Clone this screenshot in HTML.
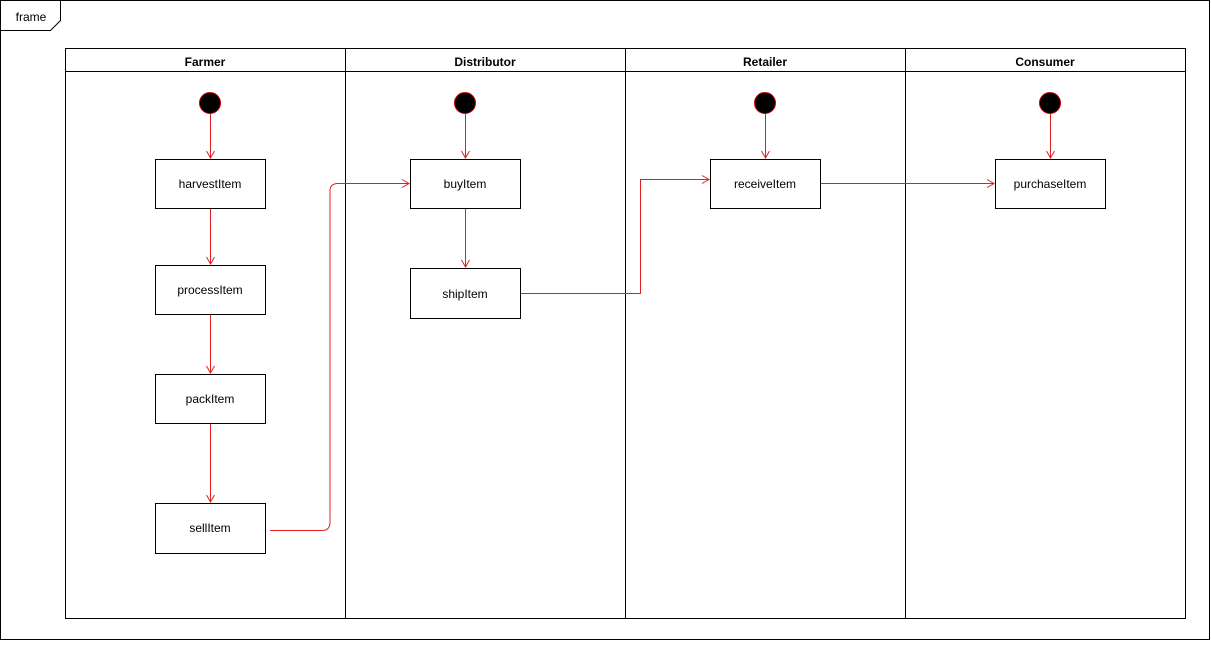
<!DOCTYPE html>
<html><head><style>body{margin:0;background:#fff}</style></head><body>
<svg width="1211" height="641" xmlns="http://www.w3.org/2000/svg" font-family="Liberation Sans, sans-serif">
<defs><marker id="a" markerWidth="10" markerHeight="10" refX="8" refY="5" orient="auto" markerUnits="userSpaceOnUse"><path d="M1,1 L8,5 L1,9" fill="none" stroke="#e02020" stroke-width="1"/></marker></defs>
<rect x="0.5" y="0.5" width="1209" height="639" fill="none" stroke="#000"/>
<path d="M0.5,30.5 H50.5 L60.5,20.5 V0.5" fill="none" stroke="#000"/>
<text x="31" y="21" font-size="12" text-anchor="middle">frame</text>
<rect x="65.5" y="48.5" width="1120" height="570" fill="none" stroke="#000"/>
<line x1="65" y1="71.5" x2="1185" y2="71.5" stroke="#000"/>
<g stroke="#000"><line x1="345.5" y1="48" x2="345.5" y2="618"/><line x1="625.5" y1="48" x2="625.5" y2="618"/><line x1="905.5" y1="48" x2="905.5" y2="618"/></g>
<g font-size="12" font-weight="bold" text-anchor="middle"><text x="205" y="66">Farmer</text><text x="485" y="66">Distributor</text><text x="765" y="66">Retailer</text><text x="1045" y="66">Consumer</text></g>
<g fill="#000" stroke="#c00"><circle cx="210" cy="103" r="10.5"/><circle cx="465" cy="103" r="10.5"/><circle cx="765" cy="103" r="10.5"/><circle cx="1050" cy="103" r="10.5"/></g>
<g fill="#fff" stroke="#000"><rect x="155.5" y="159.5" width="110" height="49"/><rect x="155.5" y="265.5" width="110" height="49"/><rect x="155.5" y="374.5" width="110" height="49"/><rect x="155.5" y="503.5" width="110" height="50"/><rect x="410.5" y="159.5" width="110" height="49"/><rect x="410.5" y="268.5" width="110" height="50"/><rect x="710.5" y="159.5" width="110" height="49"/><rect x="995.5" y="159.5" width="110" height="49"/></g>
<g font-size="12" text-anchor="middle"><text x="210" y="188">harvestItem</text><text x="210" y="294">processItem</text><text x="210" y="403">packItem</text><text x="210" y="532">sellItem</text><text x="465" y="188">buyItem</text><text x="465" y="298">shipItem</text><text x="765" y="188">receiveItem</text><text x="1050" y="188">purchaseItem</text></g>
<g fill="none" stroke="#e02020" marker-end="url(#a)">
<path d="M210.5,114 V158"/><path d="M210.5,209 V264"/><path d="M210.5,315 V373"/><path d="M210.5,424 V502"/>
<path d="M465.5,114 V158"/><path d="M465.5,209 V267"/><path d="M765.5,114 V158"/><path d="M1050.5,114 V158"/>
<path d="M270,530.5 H322 Q330,530.5 330,522 V191 Q330,183.5 338,183.5 H409"/>
<path d="M521,293.5 H640.5 V179.5 H709"/>
<path d="M821,183.5 H994"/>
</g>
</svg>
</body></html>
